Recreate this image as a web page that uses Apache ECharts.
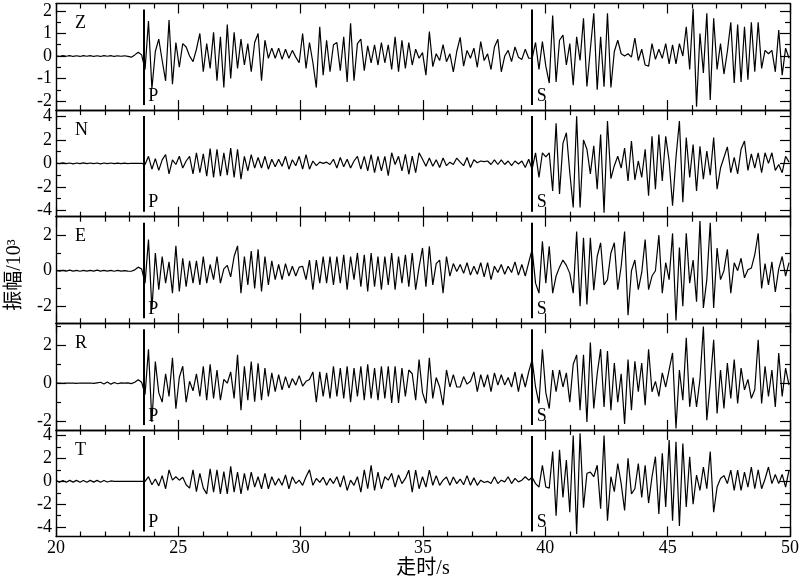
<!DOCTYPE html>
<html>
<head>
<meta charset="utf-8">
<script src="https://cdn.jsdelivr.net/npm/echarts@6/dist/echarts.min.js"></script>
<style>
  html, body { margin: 0; padding: 0; background: #fff; }
  #chart { width: 800px; height: 581px; }
</style>
</head>
<body>
<div id="chart"></div>
<script>
// sampling of the traces: t = t0 + i*dt (s)
var t0 = 20, dt = 0.14;
var pTime = 23.57, sTime = 39.44;
var compNames = ['Z', 'N', 'E', 'R', 'T'];

// amplitudes (x10^3)
var ampZ = [
  0.01,-0.02,0.02,-0.01,0.02,-0.02,0.01,-0.02,0.02,-0.01,
  0.02,-0.02,0.01,-0.02,0.02,-0.01,0.02,-0.02,0.01,-0.01,
  0.01,-0.02,-0.05,0.05,0.17,0.05,-0.6,1.55,-1.45,0.2,
  0.75,-0.2,-1.1,1.6,-1.25,0.6,-0.5,0.55,0.4,0.0,
  -0.25,0.3,1.0,-0.7,0.55,-0.55,1.05,-1.1,0.85,-1.4,
  1.4,-1.0,1.05,-0.55,0.75,-0.4,0.55,-0.7,0.6,1.0,
  -1.1,0.7,-0.1,0.35,-0.1,0.35,-0.15,0.3,-0.1,0.25,
  -0.05,-0.3,1.0,-0.55,0.6,-0.3,-1.4,1.3,-0.85,0.7,
  -0.7,0.5,0.6,-0.65,0.85,-1.15,1.45,-1.1,0.55,0.75,
  -0.65,0.45,-0.3,0.5,-0.4,0.6,-0.3,0.5,-0.6,0.85,
  -0.7,0.7,-0.55,0.6,-0.4,0.3,-0.1,0.15,-0.85,1.08,
  -0.47,0.1,-0.2,0.5,-0.25,0.1,-0.7,0.2,0.83,-0.45,
  0.25,-0.1,0.35,-0.5,0.64,-0.2,0.1,-0.6,0.4,0.74,
  -0.7,0.0,0.25,-0.25,0.4,-0.05,-0.15,0.3,-0.1,-0.1,
  0.6,-0.6,0.64,-0.45,-1.2,1.8,-1.15,0.7,0.93,-0.4,
  0.55,-1.3,0.85,-0.2,1.67,-1.35,0.3,1.9,-1.5,0.85,
  -1.36,1.9,-1.4,0.2,0.7,0.1,0.0,0.1,-0.05,0.8,
  -0.2,0.3,-0.4,-0.45,0.55,-0.15,0.3,-0.1,0.55,-0.35,
  0.5,-0.35,0.55,0.0,1.3,-0.6,2.1,-2.25,1.0,-0.75,
  1.9,-1.95,1.67,-0.6,0.55,-0.8,0.2,1.5,-1.2,1.4,
  -1.15,1.3,-1.05,1.5,-0.7,1.5,-0.55,0.25,0.1,0.25,
  -0.7,1.15,-0.85,0.35,-0.1
];
var ampN = [
  0.03,-0.03,0.04,-0.03,0.03,-0.04,0.03,-0.03,0.04,-0.03,
  0.03,-0.03,0.03,-0.04,0.03,-0.03,0.03,-0.03,0.02,-0.02,
  0.02,-0.02,0.01,-0.01,0.0,0.0,-0.1,0.6,-0.5,0.4,
  -0.6,0.3,0.75,-0.9,0.3,-0.1,0.6,-0.4,0.2,0.6,
  -0.9,0.9,-0.8,0.8,-1.1,1.25,-1.2,1.2,-1.1,0.9,
  -1.0,1.3,-1.2,1.2,-1.35,0.6,-0.65,0.75,-0.4,0.5,
  -0.4,0.6,-0.5,0.35,-0.3,0.35,-0.25,0.6,-0.5,0.3,
  -0.2,0.6,-0.5,0.75,-0.5,0.2,-0.2,0.1,0.0,0.1,
  -0.1,0.35,-0.4,0.5,-0.3,0.35,-0.4,0.2,0.6,-0.5,
  0.6,-0.65,0.75,-0.8,0.6,-0.65,0.6,-1.05,0.9,-0.1,
  0.6,-0.65,0.76,-0.93,0.62,-0.8,0.9,0.35,-0.25,0.45,
  -0.25,0.3,-0.35,0.45,-0.2,0.1,-0.1,0.45,0.1,-0.2,
  0.5,-0.35,0.3,0.05,0.2,0.15,0.2,-0.1,0.3,-0.1,
  0.3,-0.1,0.2,-0.2,0.2,-0.05,0.2,-0.35,0.35,-0.5,
  0.9,-1.2,0.9,0.55,0.9,-2.35,3.4,-2.6,1.7,2.6,
  -0.8,-3.75,4.0,-3.75,2.0,1.2,-0.9,1.5,-2.2,2.45,
  -4.2,3.6,-1.3,-0.2,0.6,-0.4,1.3,-1.5,1.9,-1.4,
  0.2,-1.2,1.2,-2.75,2.3,-2.2,2.45,-1.5,2.3,0.2,
  -3.6,0.5,3.6,-3.3,2.2,-1.2,1.6,-2.35,1.45,-1.35,
  1.05,-1.0,2.2,-2.2,-0.4,0.5,1.4,-0.8,0.5,-0.9,
  1.2,1.9,-0.6,0.8,-0.4,0.9,-0.8,0.9,0.0,0.9,
  -0.6,-0.1,-0.8,0.6,0.1
];
var ampE = [
  0.02,-0.02,0.02,-0.02,0.03,-0.02,0.02,-0.03,0.02,-0.02,
  0.02,-0.02,0.03,-0.02,0.02,-0.02,0.02,-0.03,0.02,-0.02,
  0.01,-0.02,-0.03,0.05,0.2,0.1,-0.7,1.75,-2.2,1.0,
  -1.07,0.8,-0.7,0.5,-1.26,1.4,-1.17,0.7,-0.9,0.55,
  -0.7,0.55,-0.8,0.8,-0.7,0.35,-0.5,0.8,-0.7,0.1,
  0.3,-0.35,0.8,1.4,-1.26,0.8,-0.8,1.1,-1.0,1.2,
  -1.17,0.8,-0.8,0.55,-0.5,0.35,-0.5,0.4,-0.3,0.25,
  -0.3,0.2,0.25,-0.5,0.6,-1.07,0.6,-0.7,0.8,-0.7,
  0.8,-0.8,0.8,-0.7,0.9,-1.07,0.8,-0.5,1.0,-0.9,
  0.9,-1.17,1.0,-0.9,0.8,-1.07,0.8,-0.8,1.0,-1.07,
  0.8,-0.7,0.9,-0.9,1.0,-1.07,0.2,1.28,-0.9,1.38,
  -0.8,0.4,0.6,-1.26,0.8,-0.3,0.4,-0.05,0.35,-0.15,
  0.45,-0.25,0.25,-0.2,0.45,-0.35,0.45,-0.5,0.25,-0.1,
  0.35,-0.2,0.25,-0.1,0.5,-0.25,0.35,-0.3,0.45,1.2,
  -0.7,-1.26,1.66,-0.7,1.38,-1.26,-0.3,0.2,0.6,0.3,
  -0.15,-1.26,2.2,-2.0,1.85,-1.9,1.85,-1.1,0.8,1.57,
  -0.8,-0.5,1.0,1.57,-1.07,0.25,2.2,-2.5,0.0,0.6,
  -1.07,-0.1,1.75,-1.07,-0.3,0.0,2.0,-1.26,0.45,-0.5,
  2.1,-2.8,1.3,-2.0,2.1,-0.7,0.6,-1.75,2.8,-2.1,
  -0.5,2.7,-2.1,1.28,-0.5,0.0,1.2,-1.26,0.45,0.0,
  0.7,-0.4,0.05,0.15,0.9,2.1,-1.0,0.4,-0.8,0.5,
  -1.2,0.1,0.8,-0.3,0.45
];
var ampR = [
  0.0,0.01,-0.01,0.0,0.01,0.0,-0.01,0.01,0.0,0.0,
  0.01,-0.01,0.02,0.05,-0.04,0.06,-0.05,0.04,-0.03,0.02,
  0.0,0.02,-0.02,0.05,0.18,0.05,-0.6,1.8,-2.05,1.15,
  -0.5,-1.0,0.5,-0.7,1.35,-1.35,0.3,0.9,-1.0,0.1,
  -0.4,0.5,-0.7,0.9,-0.9,1.0,-0.8,0.7,-0.9,0.2,
  0.0,0.6,-0.8,1.5,-1.43,0.9,-0.9,1.15,-0.98,1.05,
  -0.9,0.8,-0.7,0.55,-0.45,0.45,-0.35,0.35,-0.25,0.25,
  -0.1,0.4,-0.15,0.1,0.2,0.6,-1.0,0.6,-0.7,0.55,
  -0.8,0.9,-0.7,0.8,-0.8,0.9,-1.0,0.8,-0.7,0.9,
  -0.9,1.0,-0.8,0.8,-0.9,0.9,-0.8,0.9,-1.05,0.9,
  -1.05,0.8,-0.7,0.7,0.5,-0.9,1.25,-0.5,-1.07,1.34,
  -0.8,0.3,-0.2,-1.16,0.7,-0.2,0.45,-0.2,-0.2,0.35,
  -0.05,0.1,0.6,-0.45,0.45,-0.2,0.45,-0.45,0.55,-0.1,
  0.45,-0.1,0.3,-0.2,0.6,-0.45,0.5,-0.2,0.6,1.25,
  -0.2,-1.07,1.8,-0.5,-1.34,0.7,-0.45,0.7,-0.2,0.55,
  -1.0,1.0,1.5,-1.43,1.5,-2.05,2.15,-1.34,0.5,1.8,
  -1.25,1.7,-1.43,1.07,-1.0,0.5,-2.15,1.25,-1.43,1.16,
  -0.45,1.07,-1.16,1.8,-0.45,0.1,-0.7,0.55,-0.2,0.7,
  1.6,-2.4,0.7,-0.9,2.4,-1.25,0.3,-1.25,0.2,3.0,
  -1.96,0.0,2.3,-1.6,0.7,-1.34,1.07,-0.8,1.25,-1.07,
  0.8,-0.35,0.2,-0.8,-0.35,2.3,-1.07,0.9,-0.7,0.7,
  -1.25,1.6,-0.7,0.8,-0.1
];
var ampT = [
  0.08,-0.08,0.07,-0.08,0.08,-0.07,0.08,-0.08,0.07,-0.08,
  0.08,-0.07,0.08,-0.08,0.07,-0.06,0.03,0.0,0.0,0.0,
  0.0,0.0,0.0,0.0,0.0,0.0,0.0,0.4,-0.3,0.2,
  -0.4,0.5,-0.65,1.0,0.1,0.4,0.1,0.35,-0.3,-0.6,
  1.0,-0.9,0.7,-0.6,-1.1,1.1,-0.95,1.0,-1.1,0.85,
  -1.1,1.3,-0.95,0.8,-1.1,0.7,-0.8,0.8,-0.5,0.4,
  -0.65,0.7,-0.65,0.4,-0.35,0.25,-0.35,0.55,-0.65,0.4,
  -0.2,0.1,-0.35,0.4,1.0,-0.35,0.25,-0.1,0.35,-0.35,
  0.25,-0.2,0.4,-0.5,0.5,-0.8,0.1,-0.35,0.4,-0.95,
  1.0,-0.65,1.4,-0.8,0.8,-0.65,0.4,0.1,0.7,-0.5,
  0.55,-0.2,0.25,0.97,-0.95,0.97,-0.65,0.4,-0.5,0.97,
  -0.35,0.5,-0.35,0.1,0.38,-0.35,0.38,-0.2,0.2,-0.3,
  0.5,-0.35,0.3,-0.35,0.1,-0.1,0.0,-0.2,0.4,-0.2,
  0.1,-0.05,0.4,-0.2,0.25,-0.05,0.1,0.4,0.1,0.35,
  -0.2,-0.5,1.4,-0.5,-0.6,2.6,-3.0,2.75,-1.4,1.85,
  -2.7,4.0,-4.6,4.2,-2.3,0.7,0.8,0.4,1.4,-2.4,
  4.0,-3.45,0.4,-0.9,1.55,-0.2,-2.55,2.0,-1.1,-0.65,
  1.55,-1.4,1.4,-1.9,0.4,2.15,-2.85,2.45,-2.25,3.6,
  -3.45,3.45,-3.9,3.3,-2.25,2.15,-2.0,0.55,-0.8,1.25,
  -0.65,2.6,-2.7,-0.5,0.25,0.5,-0.2,0.97,-0.8,0.97,
  -0.8,0.8,-0.5,1.25,-0.65,1.0,-0.65,0.2,1.25,-0.2,
  0.6,-0.2,0.6,-0.5,0.97
];

// axis ranges and tick values per panel
var yMin = [-2.40, -4.54, -2.96, -2.47, -4.82];
var yMax = [2.33, 4.53, 3.04, 3.17, 4.49];
var yLabelVals = [[-2, -1, 0, 1, 2], [-4, -2, 0, 2, 4], [-2, 0, 2], [-2, 0, 2], [-4, -2, 0, 2, 4]];
var yMinorVals = [[-1.5, -0.5, 0.5, 1.5], [-3, -1, 1, 3], [-1, 1], [-1, 1, 3], [-3, -1, 1, 3]];

var traces = [ampZ, ampN, ampE, ampR, ampT];

var serif = '"Liberation Serif", "Noto Sans CJK SC", serif';
var gridTop = 3.5, panelH = 106.6, gridLeft = 56, gridRight = 10;
var frame = { color: '#000', width: 1.4 };
var tickStyle = { color: '#000', width: 1.2 };

var chart = echarts.init(document.getElementById('chart'));

var grids = [], xAxes = [], yAxes = [], series = [];

traces.forEach(function (amp, k) {
  var last = k === traces.length - 1;
  grids.push({
    left: gridLeft, right: gridRight, top: gridTop + k * panelH, height: panelH,
    containLabel: false, outerBoundsMode: 'none'
  });

  ['bottom', 'top'].forEach(function (pos) {
    var showLab = pos === 'bottom' && last;
    xAxes.push({
      gridIndex: k, type: 'value', position: pos, min: 20, max: 50, interval: 5,
      axisLine: { show: true, onZero: false, lineStyle: frame },
      axisTick: { show: true, inside: true, length: 10, lineStyle: tickStyle },
      minorTick: { show: true, splitNumber: 5, length: 5, lineStyle: tickStyle },
      axisLabel: { show: showLab, color: '#000', fontFamily: serif, fontSize: 18, margin: 3 },
      splitLine: { show: false }, minorSplitLine: { show: false },
      name: showLab ? '走时/s' : '', nameLocation: 'middle', nameGap: 22,
      nameTextStyle: { color: '#000', fontFamily: serif, fontSize: 20 }
    });
  });

  ['left', 'right'].forEach(function (pos) {
    var isLeft = pos === 'left';
    // major ticks (+ labels on the left)
    yAxes.push({
      gridIndex: k, type: 'value', position: pos, min: yMin[k], max: yMax[k],
      axisLine: { show: true, onZero: false, lineStyle: frame },
      axisTick: { show: true, inside: true, length: 10, customValues: yLabelVals[k], lineStyle: tickStyle },
      axisLabel: { show: isLeft, customValues: yLabelVals[k], color: '#000', fontFamily: serif, fontSize: 18, margin: 4 },
      splitLine: { show: false },
      name: (isLeft && k === 2) ? '振幅/10³' : '', nameLocation: 'middle', nameRotate: 90, nameGap: 31,
      nameTextStyle: { color: '#000', fontFamily: serif, fontSize: 20, padding: [0, 0, 0, -10] }
    });
    // minor ticks
    yAxes.push({
      gridIndex: k, type: 'value', position: pos, min: yMin[k], max: yMax[k],
      axisLine: { show: false },
      axisTick: { show: true, inside: true, length: 5, customValues: yMinorVals[k], lineStyle: tickStyle },
      axisLabel: { show: false },
      splitLine: { show: false }
    });
  });

  var ppu = panelH / (yMax[k] - yMin[k]);
  var lnTop = yMax[k] - 6 / ppu, lnBot = yMin[k] + 5 / ppu;

  series.push({
    type: 'line',
    xAxisIndex: 2 * k, yAxisIndex: 4 * k,
    data: amp.map(function (v, i) { return [t0 + i * dt, v]; }),
    showSymbol: false, symbol: 'none', silent: true,
    lineStyle: { color: '#000', width: 1.2 },
    markLine: {
      silent: true, symbol: ['none', 'none'], animation: false,
      lineStyle: { color: '#000', width: 2, type: 'solid' },
      label: { show: false },
      data: [
        [{ coord: [pTime, lnTop] }, { coord: [pTime, lnBot] }],
        [{ coord: [sTime, lnTop] }, { coord: [sTime, lnBot] }]
      ]
    }
  });
});

chart.setOption({
  backgroundColor: '#fff',
  animation: false,
  grid: grids,
  xAxis: xAxes,
  yAxis: yAxes,
  series: series
});

// component letters and phase labels
var graphics = [];
traces.forEach(function (amp, k) {
  var top = gridTop + k * panelH, bottom = top + panelH;
  var xP = chart.convertToPixel({ xAxisIndex: 2 * k }, pTime);
  var xS = chart.convertToPixel({ xAxisIndex: 2 * k }, sTime);
  graphics.push({
    type: 'text', x: 75, y: top + 11, silent: true,
    style: { text: compNames[k], fill: '#000', fontFamily: serif, fontSize: 18, verticalAlign: 'top' }
  });
  [[xP, 'P'], [xS, 'S']].forEach(function (p) {
    graphics.push({
      type: 'text', x: p[0] + 5, y: bottom - 5, silent: true,
      style: { text: p[1], fill: '#000', fontFamily: serif, fontSize: 18, verticalAlign: 'bottom' }
    });
  });
});
chart.setOption({ graphic: graphics });
</script>
</body>
</html>
